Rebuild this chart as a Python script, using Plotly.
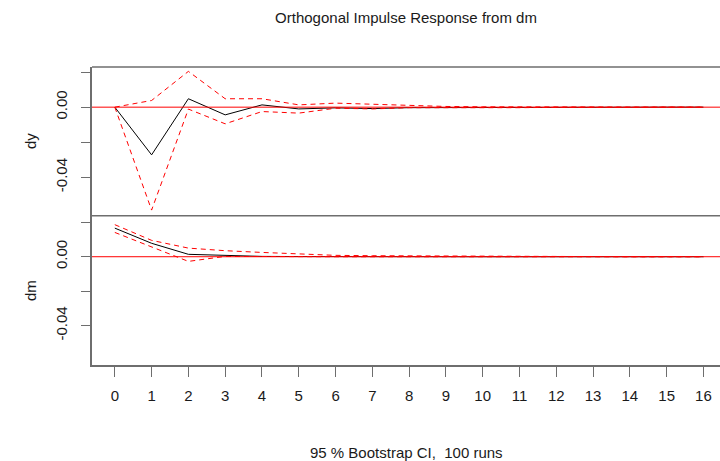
import plotly.graph_objects as go

horizon = list(range(17))
tick_labels = [str(h) for h in horizon]

dy_irf = [0, -0.0272, 0.0048, -0.0044, 0.0013, -0.0010, -0.0004, -0.0008, -0.0003, -0.0002, -0.0001, -0.0001, 0, 0, 0, 0, 0]
dy_upper = [0, 0.0038, 0.0204, 0.0048, 0.0048, 0.0013, 0.0023, 0.0017, 0.0008, 0.0004, 0.0002, 0.0002, 0.0001, 0.0001, 0.0001, 0, 0]
dy_lower = [0, -0.0587, -0.0011, -0.0095, -0.0025, -0.0034, -0.0006, -0.0010, -0.0003, -0.0004, -0.0001, -0.0003, -0.0001, -0.0003, -0.0001, 0, 0]

dm_irf = [0.0166, 0.0078, 0.0014, 0.0006, 0.0002, 0.0001, 0, 0, 0, 0, 0, 0, 0, 0, 0, 0, 0]
dm_upper = [0.0186, 0.0095, 0.0050, 0.0035, 0.0025, 0.0017, 0.0008, 0.0006, 0.0005, 0.0001, 0, 0, 0, 0, 0, 0, 0]
dm_lower = [0.0141, 0.0056, -0.0027, 0.0002, 0, 0, 0, 0, 0, 0, 0, 0, 0, 0, 0, 0, 0]

y_tickvals = [0.02, 0.0, -0.02, -0.04]
y_ticktext = ["", "0.00", "", "-0.04"]

FONT = "Liberation Sans, Arial, sans-serif"
FRAME = "#6e6e6e"
DASH = "5px,4px"

fig = go.Figure()
for ys, yax in [((dy_upper, dy_lower, dy_irf), "y"), ((dm_upper, dm_lower, dm_irf), "y2")]:
    up, lo, ce = ys
    fig.add_trace(go.Scatter(x=horizon, y=ce, mode="lines", line=dict(color="black", width=1), yaxis=yax, xaxis="x", showlegend=False))
    fig.add_trace(go.Scatter(x=horizon, y=up, mode="lines", line=dict(color="red", width=1, dash=DASH), yaxis=yax, xaxis="x", showlegend=False))
    fig.add_trace(go.Scatter(x=horizon, y=lo, mode="lines", line=dict(color="red", width=1, dash=DASH), yaxis=yax, xaxis="x", showlegend=False))

split = 0.501
fig.update_layout(
    width=720, height=461,
    margin=dict(l=92, r=0, t=67, b=96),
    paper_bgcolor="white", plot_bgcolor="white",
    font=dict(family=FONT, size=15, color="#1a1a1a"),
    title=dict(text="Orthogonal Impulse Response from dm", x=0.5, xref="paper", xanchor="center",
               y=1 - 18 / 461, yanchor="middle", font=dict(size=15)),
    xaxis=dict(anchor="y2", range=[-0.62, 16.45], tickvals=horizon, ticktext=tick_labels,
               ticks="outside", ticklen=10, tickcolor=FRAME, tickwidth=1.3,
               showline=True, linecolor=FRAME, linewidth=1.6, showgrid=False, zeroline=False,
               ticklabelstandoff=6, tickfont=dict(size=15)),
    yaxis=dict(domain=[split, 1], range=[-0.0619, 0.0229], tickvals=y_tickvals, ticktext=y_ticktext,
               ticks="outside", ticklen=9, tickcolor=FRAME, tickwidth=1.3, tickangle=-90,
               showline=True, linecolor=FRAME, linewidth=1.6, showgrid=False, zeroline=False,
               ticklabelstandoff=8, tickfont=dict(size=15)),
    yaxis2=dict(domain=[0, split], range=[-0.0628, 0.0238], tickvals=y_tickvals, ticktext=y_ticktext,
                ticks="outside", ticklen=9, tickcolor=FRAME, tickwidth=1.3, tickangle=-90,
                showline=True, linecolor=FRAME, linewidth=1.6, showgrid=False, zeroline=False,
                ticklabelstandoff=8, tickfont=dict(size=15)),
    shapes=[
        dict(type="line", xref="paper", yref="paper", x0=0, x1=1, y0=1, y1=1, line=dict(color=FRAME, width=1.6)),
        dict(type="line", xref="paper", yref="paper", x0=0, x1=1, y0=split, y1=split, line=dict(color=FRAME, width=1.6)),
        dict(type="line", xref="paper", yref="y", x0=0, x1=1, y0=0, y1=0, line=dict(color="red", width=1), layer="above"),
        dict(type="line", xref="paper", yref="y2", x0=0, x1=1, y0=0, y1=0, line=dict(color="red", width=1), layer="above"),
    ],
    annotations=[
        dict(text="dy", xref="paper", yref="paper", x=(30 - 92) / 628, y=(365 - 141) / 298, textangle=-90,
             showarrow=False, xanchor="center", yanchor="middle", font=dict(size=15)),
        dict(text="dm", xref="paper", yref="paper", x=(30 - 92) / 628, y=(365 - 290) / 298, textangle=-90,
             showarrow=False, xanchor="center", yanchor="middle", font=dict(size=15)),
        dict(text="95 % Bootstrap CI,\u00a0 100 runs", xref="paper", yref="paper", x=0.5, y=(365 - 452) / 298,
             showarrow=False, xanchor="center", yanchor="middle", font=dict(size=15)),
    ],
)

fig.write_html("out.html", config={"displayModeBar": False},
               post_script="document.body.style.margin='0';document.body.style.overflow='hidden';")
